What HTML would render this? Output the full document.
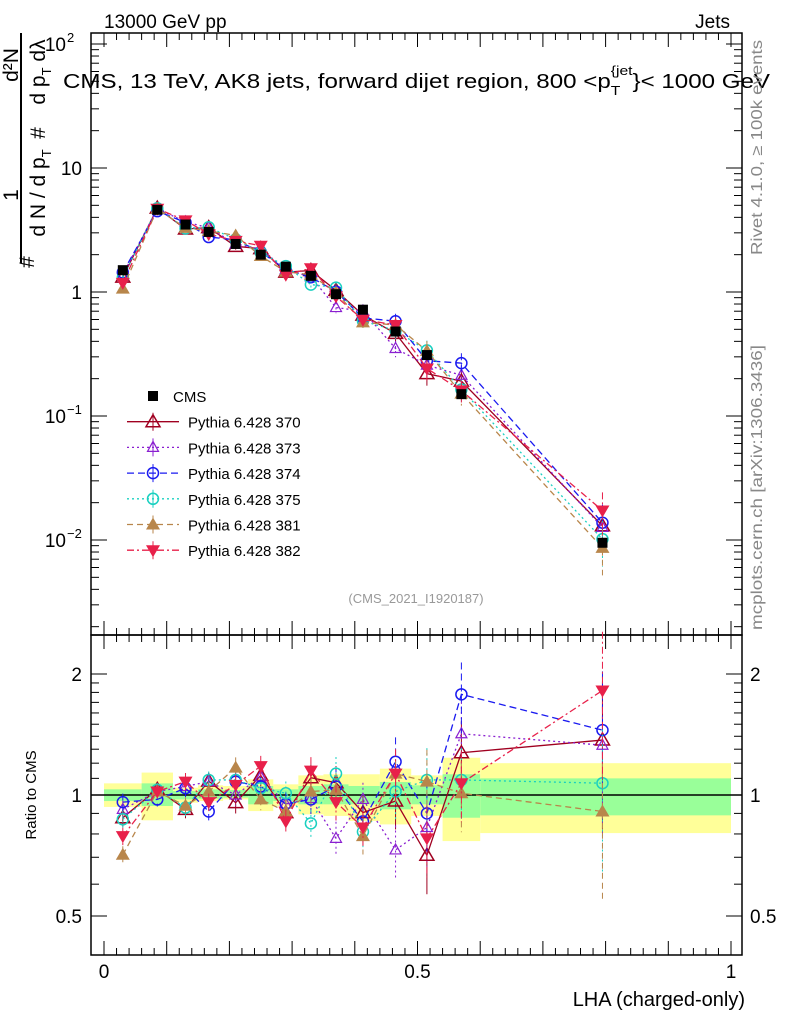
<!DOCTYPE html>
<html><head><meta charset="utf-8"><style>
body{margin:0;background:#fff;}
svg{display:block;font-family:"Liberation Sans",sans-serif;}
</style></head><body>
<svg id="c" width="786" height="1024" viewBox="0 0 786 1024">
<text x="104" y="28" font-size="19">13000 GeV pp</text>
<text x="730" y="28" font-size="19" text-anchor="end">Jets</text>
<text x="63" y="88" font-size="20" textLength="707" lengthAdjust="spacingAndGlyphs">CMS, 13 TeV, AK8 jets, forward dijet region, 800 &lt;p<tspan font-size="13" dy="7">T</tspan><tspan font-size="13" dy="-20" dx="-8">{jet</tspan><tspan dy="13">}&lt; 1000 GeV</tspan></text>
<text transform="translate(762,255) rotate(-90)" font-size="15.5" fill="#888" textLength="215" lengthAdjust="spacingAndGlyphs">Rivet 4.1.0, ≥ 100k events</text>
<text transform="translate(762,630) rotate(-90)" font-size="15.5" fill="#888" textLength="285" lengthAdjust="spacingAndGlyphs">mcplots.cern.ch [arXiv:1306.3436]</text>
<text x="416" y="603" font-size="13" fill="#999" text-anchor="middle">(CMS_2021_I1920187)</text>
<g font-size="21">
<line x1="21" y1="263" x2="21" y2="33" stroke="#000" stroke-width="2"/>
<text transform="translate(18,195) rotate(-90)" text-anchor="middle">1</text>
<text transform="translate(18,65) rotate(-90)" text-anchor="middle">d²N</text>
<text transform="translate(34,262) rotate(-90)" text-anchor="middle">#</text>
<text transform="translate(45,193) rotate(-90)" text-anchor="middle">d N / d p<tspan font-size="13" dy="6">T</tspan></text>
<text transform="translate(45,133) rotate(-90)" text-anchor="middle">#</text>
<text transform="translate(45,72) rotate(-90)" text-anchor="middle">d p<tspan font-size="13" dy="6">T</tspan><tspan dy="-6">  dλ</tspan></text>
</g>
<text transform="translate(36,795) rotate(-90)" font-size="15" text-anchor="middle">Ratio to CMS</text>
<text x="745" y="1006" font-size="20" text-anchor="end">LHA (charged-only)</text>
<g id="g"></g>
</svg>
<script>
const xVals=[0.03,0.085,0.13,0.167,0.21,0.25,0.29,0.33,0.37,0.413,0.465,0.515,0.57,0.795];
const binEdges=[0,0.06,0.11,0.15,0.19,0.23,0.27,0.31,0.35,0.39,0.44,0.49,0.54,0.6,1.0];
const cmsVals=[1.5,4.6,3.5,3.05,2.44,2.0,1.6,1.35,0.96,0.72,0.48,0.31,0.15,0.0095];
const r370=[0.878,1.033,0.921,1.083,0.957,1.119,0.904,1.104,1.073,0.904,0.966,0.708,1.274,1.37];
const r373=[0.921,1.02,1.05,1.08,1.0,1.11,0.95,0.98,0.78,0.975,0.73,0.83,1.42,1.33];
const r374=[0.96,0.975,1.04,0.91,1.08,1.05,0.95,0.975,1.05,0.86,1.21,0.90,1.78,1.45];
const r375=[0.87,1.03,0.93,1.09,1.09,1.04,1.01,0.85,1.13,0.81,1.02,1.09,1.09,1.07];
const r381=[0.71,1.02,0.94,1.02,1.17,0.975,0.91,1.02,1.03,0.79,1.13,1.08,1.01,0.91];
const r382=[0.79,1.02,1.08,0.96,1.06,1.18,0.86,1.15,0.96,0.83,1.13,0.78,1.07,1.82];
const relErr=[0.05,0.04,0.05,0.05,0.06,0.06,0.07,0.08,0.1,0.1,0.15,0.2,0.2,0.4];
const yelUp=[1.069,1.137,1.043,1.057,1.053,1.094,1.063,1.119,1.126,1.126,1.163,1.119,1.238,1.20];
const yelDn=[0.934,0.865,0.957,0.966,0.975,0.912,0.939,0.895,0.887,0.862,0.845,0.887,0.768,0.804];
const grnUp=[1.033,1.069,1.023,1.033,1.029,1.053,1.033,1.053,1.063,1.053,1.077,1.057,1.126,1.10];
const grnDn=[0.966,0.939,0.975,0.979,0.985,0.948,0.966,0.948,0.948,0.948,0.921,0.948,0.878,0.89];
const seriesNames=["Pythia 6.428 370","Pythia 6.428 373","Pythia 6.428 374","Pythia 6.428 375","Pythia 6.428 381","Pythia 6.428 382"];

const NS="http://www.w3.org/2000/svg";
const G=document.getElementById('g');
const X=v=>104+627*v;
const Y=v=>292-124*Math.log10(v);
const R=v=>795-121*Math.log2(v);
function mk(t,a,p){const e=document.createElementNS(NS,t);for(const k in a)e.setAttribute(k,a[k]);(p||G).appendChild(e);return e;}
const L=91,Rt=742,T=33,M=635,B=955;

for(let i=0;i<binEdges.length-1;i++){
 let e=mk('rect',{x:X(binEdges[i]),y:R(yelUp[i]),width:X(binEdges[i+1])-X(binEdges[i]),height:R(yelDn[i])-R(yelUp[i]),fill:'#ffff99'});
 
 
 let f=mk('rect',{x:X(binEdges[i]),y:R(grnUp[i]),width:X(binEdges[i+1])-X(binEdges[i]),height:R(grnDn[i])-R(grnUp[i]),fill:'#99ff99'});
 
 
}
mk('line',{x1:L,x2:Rt,y1:R(1),y2:R(1),stroke:'#000','stroke-width':1.5});

let fr1=mk('rect',{x:L,y:T,width:Rt-L,height:M-T,fill:'none',stroke:'#000','stroke-width':1.5});


let fr2=mk('rect',{x:L,y:M,width:Rt-L,height:B-M,fill:'none',stroke:'#000','stroke-width':1.5});



for(let k=0;k<=50;k++){const v=k*0.02;if(v>1.02)break;const x=X(v);const big=k%5==0;
 for(const [y0,dir] of [[T,1],[M,-1],[M,1],[B,-1]]) mk('line',{x1:x,x2:x,y1:y0,y2:y0+dir*(big?14:7),stroke:'#000'});}
const xt=["0","0.5","1"];
[0,0.5,1].forEach((v,i)=>{let t=mk('text',{x:X(v),y:978,'font-size':19,'text-anchor':'middle'});t.textContent=xt[i];
 
 });

for(let d=-3;d<=2;d++)for(let m=1;m<10;m++){const v=m*Math.pow(10,d);const y=Y(v);if(y<T||y>M)continue;
 const len=m==1?16:8;mk('line',{x1:L,x2:L+len,y1:y,y2:y,stroke:'#000'});mk('line',{x1:Rt,x2:Rt-len,y1:y,y2:y,stroke:'#000'});}
const yLabs=[[100,"10","2"],[10,"10",""],[1,"1",""],[0.1,"10","−1"],[0.01,"10","−2"]];
yLabs.forEach(l=>{let t=mk('text',{x:l[2]?66:82,y:Y(l[0])+7,'font-size':19,'text-anchor':'end'});t.textContent=l[1];
 
 
 if(l[2]){let s=mk('text',{x:67,y:Y(l[0])-2,'font-size':13});s.textContent=l[2];}});

[0.5,0.6,0.7,0.8,0.9,1,1.1,1.2,1.3,1.4,1.5,1.6,1.7,1.8,1.9,2].forEach(v=>{const y=R(v);const big=(v==0.5||v==1||v==2);
 mk('line',{x1:L,x2:L+(big?16:8),y1:y,y2:y,stroke:'#000'});mk('line',{x1:Rt,x2:Rt-(big?16:8),y1:y,y2:y,stroke:'#000'});});
[[2,"2"],[1,"1"],[0.5,"0.5"]].forEach(l=>{for(const [x,a] of [[82,'end'],[750,'start']]){let t=mk('text',{x:x,y:R(l[0])+7,'font-size':19,'text-anchor':a});t.textContent=l[1];
 
 }});

function marker(kind,x,y,col,p){
 if(kind=='sq')mk('rect',{x:x-5,y:y-5,width:10,height:10,fill:'#000'},p);
 else if(kind=='ot')mk('polygon',{points:`${x},${y-7} ${x-7},${y+5} ${x+7},${y+5}`,fill:'none',stroke:col,'stroke-width':1.5},p);
 else if(kind=='ot2')mk('polygon',{points:`${x},${y-6} ${x-5.5},${y+4} ${x+5.5},${y+4}`,fill:'none',stroke:col,'stroke-width':1.2},p);
 else if(kind=='oc')mk('circle',{cx:x,cy:y,r:5.5,fill:'none',stroke:col,'stroke-width':1.5},p);
 else if(kind=='ft')mk('polygon',{points:`${x},${y-7} ${x-7},${y+5} ${x+7},${y+5}`,fill:col},p);
 else if(kind=='fd')mk('polygon',{points:`${x},${y+7} ${x-7},${y-5} ${x+7},${y-5}`,fill:col},p);
}
const ratios=[r370,r373,r374,r375,r381,r382];
const cols=['#a00020','#8a1fd0','#1a1af0','#1ad0c0','#b8864b','#e8204a'];
const kinds=['ot','ot2','oc','oc','ft','fd'];
const dashes=['','2,3','7,4','2,3','6,4','7,3,2,3'];

ratios.forEach((r,s)=>{
 const g=mk('g',{});
 
 
 const mv=r.map((q,i)=>q*cmsVals[i]);
 mk('polyline',{points:xVals.map((x,i)=>X(x)+','+Y(mv[i])).join(' '),fill:'none',stroke:cols[s],'stroke-width':1.3,'stroke-dasharray':dashes[s]},g);
 mk('polyline',{points:xVals.map((x,i)=>X(x)+','+R(r[i])).join(' '),fill:'none',stroke:cols[s],'stroke-width':1.3,'stroke-dasharray':dashes[s]},g);
 xVals.forEach((x,i)=>{
  const e=relErr[i];
  mk('line',{x1:X(x),x2:X(x),y1:Y(mv[i]*(1+e)),y2:Y(mv[i]*(1-e)),stroke:cols[s],'stroke-dasharray':dashes[s]},g);
  mk('line',{x1:X(x),x2:X(x),y1:R(r[i]*(1+e)),y2:R(r[i]*(1-e)),stroke:cols[s],'stroke-dasharray':dashes[s]},g);
  marker(kinds[s],X(x),Y(mv[i]),cols[s],g);
  marker(kinds[s],X(x),R(r[i]),cols[s],g);
 });
});
const cg=mk('g',{});


xVals.forEach((x,i)=>marker('sq',X(x),Y(cmsVals[i]),'#000',cg));
const lg=mk('g',{});


const ly0=396,ls=25.7;
marker('sq',153,ly0,'#000',lg);
let t0=mk('text',{x:173,y:ly0+6,'font-size':15},lg);t0.textContent='CMS';


seriesNames.forEach((n,s)=>{const y=ly0+ls*(s+1);
 mk('line',{x1:127,x2:179,y1:y,y2:y,stroke:cols[s],'stroke-width':1.3,'stroke-dasharray':dashes[s]},lg);
 mk('line',{x1:153,x2:153,y1:y-9,y2:y+9,stroke:cols[s]},lg);
 marker(kinds[s],153,y,cols[s],lg);
 let t=mk('text',{x:188,y:y+6,'font-size':15},lg);t.textContent=n;
 
 
});
</script>
</body></html>
